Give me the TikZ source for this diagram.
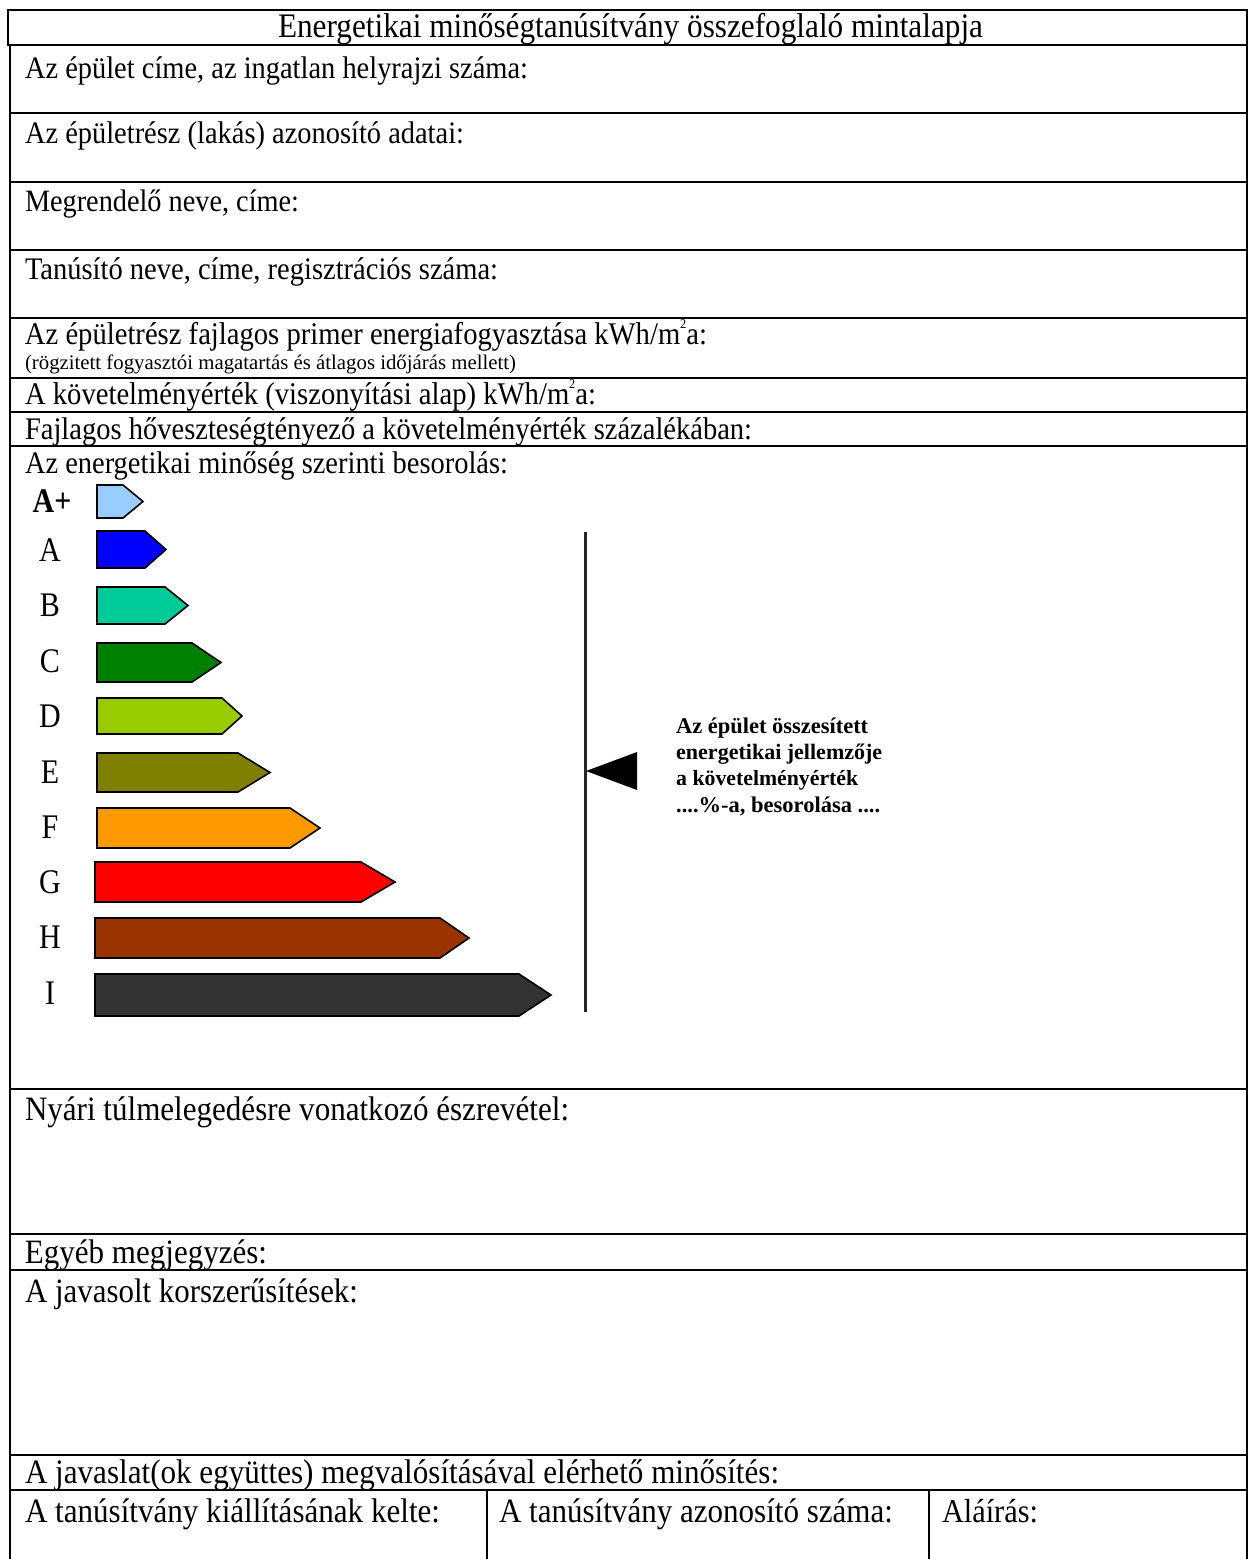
\documentclass[tikz,border=0pt]{standalone}
\usepackage{fontspec}
\setmainfont{Liberation Serif}
\usepackage{graphicx}
\definecolor{cAp}{HTML}{99CCFF}
\definecolor{cA}{HTML}{0000FF}
\definecolor{cB}{HTML}{00CC99}
\definecolor{cC}{HTML}{008000}
\definecolor{cD}{HTML}{99CC00}
\definecolor{cE}{HTML}{808000}
\definecolor{cF}{HTML}{FF9900}
\definecolor{cG}{HTML}{FF0000}
\definecolor{cH}{HTML}{993300}
\definecolor{cI}{HTML}{333333}
\newcommand\fw[2]{\resizebox{#1pt}{!}{\scalebox{1}[1.1]{#2}}}
\newcommand\sqtwo{\raisebox{0.48em}{\fontsize{12}{12}\selectfont 2}}
\begin{document}
\begin{tikzpicture}[x=1pt,y=-1pt,
  rule/.style={line width=2pt, draw=black},
  lbl/.style={anchor=base west, inner sep=0pt, outer sep=0pt, font=\fontsize{28}{34}\selectfont},
  cls/.style={anchor=center, inner sep=0pt, font=\fontsize{30}{30}\selectfont},
  bar/.style={draw=black, line width=1.6pt, line join=miter},
  ptxt/.style={anchor=base west, inner sep=0pt, font=\bfseries\fontsize{20}{26}\selectfont},
]
\useasboundingbox (0,0) rectangle (1250,1559);
% frame
\draw[rule] (8,10) rectangle (1247,45);
\draw[rule] (10,45) -- (10,1560);
\draw[rule] (1247,45) -- (1247,1560);
\foreach \yy in {113,182,250,318,378,412,446,1089,1234,1270,1455,1490}
  \draw[rule] (10,\yy) -- (1247,\yy);
\draw[rule] (487,1490) -- (487,1560);
\draw[rule] (929,1490) -- (929,1560);
% texts
\node[lbl] (title) at (278,37) {\fw{705}{Energetikai minőségtanúsítvány összefoglaló mintalapja}};
\node[lbl] (r1) at (25,78) {\fw{503}{Az épület címe, az ingatlan helyrajzi száma:}};
\node[lbl] (r2) at (25,143) {\fw{439}{Az épületrész (lakás) azonosító adatai:}};
\node[lbl] (r3) at (25,211) {\fw{274}{Megrendelő neve, címe:}};
\node[lbl] (r4) at (25,279) {\fw{473}{Tanúsító neve, címe, regisztrációs száma:}};
\node[lbl] (r5) at (25,344) {\fw{682}{Az épületrész fajlagos primer energiafogyasztása kWh/m\sqtwo a:}};
\node[lbl] (r5s) at (25,369) {\resizebox{491pt}{!}{\fontsize{18}{20}\selectfont (rögzitett fogyasztói magatartás és átlagos időjárás mellett)}};
\node[lbl] (r6) at (25,404) {\fw{571}{A követelményérték (viszonyítási alap) kWh/m\sqtwo a:}};
\node[lbl] (r7) at (25,439) {\fw{727}{Fajlagos hőveszteségtényező a követelményérték százalékában:}};
\node[lbl] (r8) at (25,473) {\fw{483}{Az energetikai minőség szerinti besorolás:}};
\node[lbl] (r9) at (25,1120) {\fw{544}{Nyári túlmelegedésre vonatkozó észrevétel:}};
\node[lbl] (r10) at (25,1263) {\fw{242}{Egyéb megjegyzés:}};
\node[lbl] (r11) at (25,1302) {\fw{333}{A javasolt korszerűsítések:}};
\node[lbl] (r12) at (25,1483) {\fw{754}{A javaslat(ok együttes) megvalósításával elérhető minősítés:}};
\node[lbl] (b1) at (25,1522) {\fw{415}{A tanúsítvány kiállításának kelte:}};
\node[lbl] (b2) at (499,1522) {\fw{394}{A tanúsítvány azonosító száma:}};
\node[lbl] (b3) at (942,1522) {\fw{96}{Aláírás:}};
% energy class bars
\foreach \n/\lx/\ly/\txt/\l/\t/\b/\s/\x/\c in {
  Ap/52/501/{\bfseries A+}/97/485/518/123/143/cAp,
  A/50/550/A/97/531/568/145/166/cA,
  B/50/605/B/97/587/624/165/188/cB,
  C/50/661/C/97/643/682/192/221/cC,
  D/50/716/D/97/698/734/222/242/cD,
  E/50/772/E/97/753/792/238/270/cE,
  F/50/827/F/97/808/848/290/320/cF,
  G/50/882/G/95/862/902/361/395/cG,
  H/50/937/H/95/918/958/440/469/cH,
  I/50/993/I/95/974/1016/519/551/cI}{
  \node[cls] (cls-\n) at (\lx,\ly) {\scalebox{1}[1.15]{\txt}};
  \draw[bar, fill=\c] (\l,\t) -- (\s,\t) -- (\x,{(\t+\b)/2}) -- (\s,\b) -- (\l,\b) -- cycle;
}
% scale line and pointer
\coordinate (vtop) at (585,532);
\coordinate (vbot) at (585,1012);
\draw[line width=3pt, black!85] (vtop) -- (vbot);
\fill[black] (586,771) -- (637,752) -- (637,790) -- cycle;
\node[ptxt] (p1) at (676,733) {\resizebox{192pt}{!}{Az épület összesített}};
\node[ptxt] (p2) at (676,759) {\resizebox{206pt}{!}{energetikai jellemzője}};
\node[ptxt] (p3) at (676,785) {\resizebox{182pt}{!}{a követelményérték}};
\node[ptxt] (p4) at (676,812) {\resizebox{204pt}{!}{....\%-a, besorolása ....}};
\end{tikzpicture}
\end{document}
